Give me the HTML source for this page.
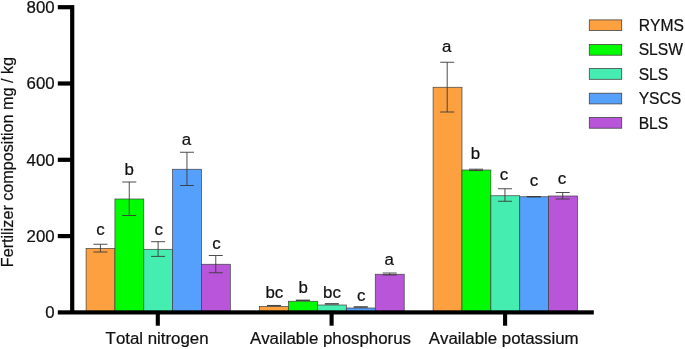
<!DOCTYPE html>
<html><head><meta charset="utf-8"><title>Fertilizer composition</title>
<style>
html,body{margin:0;padding:0;background:#fff;}
body{width:685px;height:349px;overflow:hidden;font-family:"Liberation Sans",sans-serif;}
svg{display:block;}
text{font-family:"Liberation Sans",sans-serif;fill:#111;font-kerning:none;stroke:#111;stroke-width:0.22px;}
.t{will-change:transform;}
</style></head><body>
<svg width="685" height="349" viewBox="0 0 685 349">
<rect width="685" height="349" fill="#fff"/>

<rect x="86.10" y="248.5" width="28.84" height="62.90" fill="#FDA03F" stroke="#404040" stroke-width="0.7"/>
<rect x="114.94" y="199.0" width="28.84" height="112.40" fill="#00FC00" stroke="#404040" stroke-width="0.7"/>
<rect x="143.78" y="249.3" width="28.84" height="62.10" fill="#45EDB0" stroke="#404040" stroke-width="0.7"/>
<rect x="172.62" y="169.25" width="28.84" height="142.15" fill="#55A0FD" stroke="#404040" stroke-width="0.7"/>
<rect x="201.46" y="264.25" width="28.84" height="47.15" fill="#B855D8" stroke="#404040" stroke-width="0.7"/>
<rect x="259.50" y="306.5" width="28.94" height="4.90" fill="#FDA03F" stroke="#404040" stroke-width="0.7"/>
<rect x="288.44" y="301.25" width="28.94" height="10.15" fill="#00FC00" stroke="#404040" stroke-width="0.7"/>
<rect x="317.38" y="305.0" width="28.94" height="6.40" fill="#45EDB0" stroke="#404040" stroke-width="0.7"/>
<rect x="346.32" y="308.0" width="28.94" height="3.40" fill="#55A0FD" stroke="#404040" stroke-width="0.7"/>
<rect x="375.26" y="274.25" width="28.94" height="37.15" fill="#B855D8" stroke="#404040" stroke-width="0.7"/>
<rect x="433.10" y="87.25" width="28.88" height="224.15" fill="#FDA03F" stroke="#404040" stroke-width="0.7"/>
<rect x="461.98" y="170.0" width="28.88" height="141.40" fill="#00FC00" stroke="#404040" stroke-width="0.7"/>
<rect x="490.86" y="195.75" width="28.88" height="115.65" fill="#45EDB0" stroke="#404040" stroke-width="0.7"/>
<rect x="519.74" y="196.75" width="28.88" height="114.65" fill="#55A0FD" stroke="#404040" stroke-width="0.7"/>
<rect x="548.62" y="196.0" width="28.88" height="115.40" fill="#B855D8" stroke="#404040" stroke-width="0.7"/>
<path d="M100.42 244.25V252.0M93.42 244.25H107.42M93.42 252.0H107.42" stroke="#3a3a3a" stroke-width="0.9" fill="none"/>
<path d="M129.26 182.0V215.5M122.26 182.0H136.26M122.26 215.5H136.26" stroke="#3a3a3a" stroke-width="0.9" fill="none"/>
<path d="M158.10 241.7V256.4M151.10 241.7H165.10M151.10 256.4H165.10" stroke="#3a3a3a" stroke-width="0.9" fill="none"/>
<path d="M186.94 152.25V185.5M179.94 152.25H193.94M179.94 185.5H193.94" stroke="#3a3a3a" stroke-width="0.9" fill="none"/>
<path d="M215.78 255.5V272.75M208.78 255.5H222.78M208.78 272.75H222.78" stroke="#3a3a3a" stroke-width="0.9" fill="none"/>
<path d="M273.97 305.45V305.85M266.97 305.45H280.97M266.97 305.85H280.97" stroke="#3a3a3a" stroke-width="0.9" fill="none"/>
<path d="M302.91 300.1V300.5M295.91 300.1H309.91M295.91 300.5H309.91" stroke="#3a3a3a" stroke-width="0.9" fill="none"/>
<path d="M331.85 303.7V304.1M324.85 303.7H338.85M324.85 304.1H338.85" stroke="#3a3a3a" stroke-width="0.9" fill="none"/>
<path d="M360.79 306.8V307.2M353.79 306.8H367.79M353.79 307.2H367.79" stroke="#3a3a3a" stroke-width="0.9" fill="none"/>
<path d="M389.73 273.0V275.0M382.73 273.0H396.73M382.73 275.0H396.73" stroke="#3a3a3a" stroke-width="0.9" fill="none"/>
<path d="M447.19 62.25V112.0M440.19 62.25H454.19M440.19 112.0H454.19" stroke="#3a3a3a" stroke-width="0.9" fill="none"/>
<path d="M476.07 169.2V170.6M469.07 169.2H483.07M469.07 170.6H483.07" stroke="#3a3a3a" stroke-width="0.9" fill="none"/>
<path d="M504.95 188.75V201.25M497.95 188.75H511.95M497.95 201.25H511.95" stroke="#3a3a3a" stroke-width="0.9" fill="none"/>
<path d="M533.83 196.5V197.0M526.83 196.5H540.83M526.83 197.0H540.83" stroke="#3a3a3a" stroke-width="0.9" fill="none"/>
<path d="M562.71 192.5V199.0M555.71 192.5H569.71M555.71 199.0H569.71" stroke="#3a3a3a" stroke-width="0.9" fill="none"/>
<rect x="70.1" y="5.1" width="4.2" height="307" fill="#000"/>
<rect x="57.8" y="310.3" width="536" height="4.2" fill="#000"/>
<rect x="57.8" y="234.00" width="13" height="4.2" fill="#000"/>
<rect x="57.8" y="157.70" width="13" height="4.2" fill="#000"/>
<rect x="57.8" y="81.40" width="13" height="4.2" fill="#000"/>
<rect x="57.8" y="5.10" width="13" height="4.2" fill="#000"/>
<rect x="155.75" y="314" width="4.1" height="11.7" fill="#000"/>
<rect x="329.55" y="314" width="4.1" height="11.7" fill="#000"/>
<rect x="503.05" y="314" width="4.1" height="11.7" fill="#000"/>
<g class="t">
<text x="100.5" y="235.1" font-size="16.85" text-anchor="middle">c</text>
<text x="129.3" y="175.0" font-size="16.85" text-anchor="middle">b</text>
<text x="158.7" y="235.1" font-size="16.85" text-anchor="middle">c</text>
<text x="186.4" y="144.5" font-size="16.85" text-anchor="middle">a</text>
<text x="216.4" y="248.5" font-size="16.85" text-anchor="middle">c</text>
<text x="274.4" y="298.0" font-size="16.85" text-anchor="middle">bc</text>
<text x="303.1" y="293.25" font-size="16.85" text-anchor="middle">b</text>
<text x="332.0" y="298.0" font-size="16.85" text-anchor="middle">bc</text>
<text x="361.1" y="301.25" font-size="16.85" text-anchor="middle">c</text>
<text x="389.1" y="264.9" font-size="16.85" text-anchor="middle">a</text>
<text x="446.6" y="52.2" font-size="16.85" text-anchor="middle">a</text>
<text x="475.5" y="159.25" font-size="16.85" text-anchor="middle">b</text>
<text x="504.0" y="180.25" font-size="16.85" text-anchor="middle">c</text>
<text x="534.0" y="186.25" font-size="16.85" text-anchor="middle">c</text>
<text x="562.0" y="183.5" font-size="16.85" text-anchor="middle">c</text>
<text x="54.7" y="318.25" font-size="16.85" text-anchor="end">0</text>
<text x="54.7" y="241.95" font-size="16.85" text-anchor="end">200</text>
<text x="54.7" y="165.65" font-size="16.85" text-anchor="end">400</text>
<text x="54.7" y="89.35" font-size="16.85" text-anchor="end">600</text>
<text x="54.7" y="13.05" font-size="16.85" text-anchor="end">800</text>
<text x="105.6" y="343.9" font-size="16.85">Total nitrogen</text>
<text x="249.9" y="343.9" font-size="16.85">Available phosphorus</text>
<text x="428.8" y="343.9" font-size="16.85">Available potassium</text>
<text transform="translate(13.2,162.1) rotate(-90) scale(0.975,1)" font-size="16.6" text-anchor="middle">Fertilizer composition mg / kg</text>
<text x="638.7" y="30.9" font-size="15.65">RYMS</text>
<text x="638.7" y="55.35" font-size="15.65">SLSW</text>
<text x="638.7" y="79.8" font-size="15.65">SLS</text>
<text x="638.7" y="104.0" font-size="15.65">YSCS</text>
<text x="638.7" y="128.55" font-size="15.65">BLS</text>
</g>
<rect x="589.3" y="19.90" width="32.4" height="10.7" fill="#FDA03F" stroke="#444" stroke-width="0.8"/>
<rect x="589.3" y="44.50" width="32.4" height="10.7" fill="#00FC00" stroke="#444" stroke-width="0.8"/>
<rect x="589.3" y="68.60" width="32.4" height="10.7" fill="#45EDB0" stroke="#444" stroke-width="0.8"/>
<rect x="589.3" y="93.20" width="32.4" height="10.7" fill="#55A0FD" stroke="#444" stroke-width="0.8"/>
<rect x="589.3" y="117.50" width="32.4" height="10.7" fill="#B855D8" stroke="#444" stroke-width="0.8"/>
</svg></body></html>
